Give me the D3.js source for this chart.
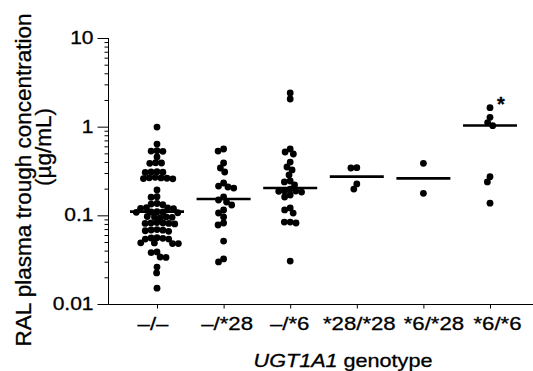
<!DOCTYPE html>
<html>
<head>
<meta charset="utf-8">
<script src="https://cdn.jsdelivr.net/npm/d3@7"></script>
<style>
  html, body { margin: 0; padding: 0; background: #fff; }
  svg { display: block; }
  text { font-family: "Liberation Sans", Arial, Helvetica, sans-serif; fill: #000; stroke: #000; stroke-width: 0.3px; }
</style>
</head>
<body>
<svg id="chart" width="533" height="371"></svg>
<script>
// ---- data ----
const categories = ["\u2013/\u2013", "\u2013/*28", "\u2013/*6", "*28/*28", "*6/*28", "*6/*6"];

const groupWtWt = [
  0.99, 0.637, 0.535, 0.531, 0.527, 0.455, 0.392, 0.389, 0.386,
  0.31, 0.308, 0.306, 0.304, 0.268, 0.265, 0.264, 0.262, 0.26, 0.258,
  0.193, 0.162, 0.16, 0.136, 0.134, 0.132, 0.122, 0.121, 0.12, 0.119,
  0.11, 0.109, 0.109, 0.108, 0.107, 0.097, 0.096, 0.0958, 0.095, 0.094,
  0.083, 0.082, 0.082, 0.081, 0.081, 0.08, 0.069, 0.0683, 0.068, 0.067, 0.066,
  0.056, 0.0555, 0.055, 0.054, 0.054, 0.049, 0.0488, 0.048, 0.048,
  0.0386, 0.038, 0.0339, 0.0335, 0.0261, 0.0224, 0.0151
];
const groupWt28 = [
  0.56, 0.531, 0.389, 0.342, 0.308, 0.2315, 0.214, 0.2087, 0.203, 0.161,
  0.149, 0.141, 0.1308, 0.1149, 0.1062, 0.0958, 0.082, 0.0778, 0.0513, 0.0322, 0.0298
];
const groupWt6 = [
  2.397, 2.051, 0.56, 0.518, 0.492, 0.399, 0.351, 0.325, 0.285, 0.244, 0.238,
  0.22, 0.198, 0.188, 0.188, 0.187, 0.183, 0.1695, 0.161, 0.121, 0.115, 0.106,
  0.084, 0.084, 0.082, 0.0305
];
const group2828 = [0.345, 0.342, 0.226, 0.198];
const group628 = [0.386, 0.177];
const group66 = [1.636, 1.275, 1.108, 1.025, 0.273, 0.238, 0.137];

const groupValues = [groupWtWt, groupWt28, groupWt6, group2828, group628, group66];
const medians = [0.11, 0.153, 0.203, 0.273, 0.261, 1.03];
const annotations = ["", "", "", "", "", "*"];

const yMajorTicks = [0.01, 0.1, 1, 10];
const yTickLabels = ["0.01", "0.1", "1", "10"];
const yTitleLine1 = "RAL plasma trough concentration";
const yTitleLine2 = "(\u00b5g/mL)";
const xTitleItalic = "UGT1A1";
const xTitleRest = " genotype";

// ---- layout ----
const svg = d3.select("#chart");
const axisX = 108.5, axisY = 304.5, plotRight = 533, plotTop = 38;
const stretch = 1.2;   // reference text is horizontally wide
const labelNudge = [-4.5, 3, -1, 2, 10, 7];  // horizontal nudges of category labels (layout)

const y = d3.scaleLog().domain([0.01, 10]).range([304, plotTop]);
const x = d3.scalePoint().domain(categories).range([157, 490]);

// ---- y axis ----
const minorTicks = y.ticks().filter(t => !yMajorTicks.some(m => Math.abs(m - t) / m < 1e-9));
const yMinor = svg.append("g").attr("transform", `translate(${axisX},0)`)
  .call(d3.axisLeft(y).tickValues(minorTicks).tickSize(4).tickSizeOuter(0).tickFormat(""));
yMinor.select(".domain").remove();
yMinor.selectAll("line").attr("stroke", "#000").attr("stroke-width", 1);

const yMajor = svg.append("g").attr("transform", `translate(${axisX},0)`)
  .call(d3.axisLeft(y).tickValues(yMajorTicks).tickSize(11).tickSizeOuter(0).tickPadding(1.5)
    .tickFormat((d, i) => yTickLabels[i]));
yMajor.select(".domain").remove();
yMajor.selectAll("line").attr("stroke", "#000").attr("stroke-width", 1);
yMajor.selectAll("text")
  .attr("font-size", 17.5)
  .attr("font-family", "'Liberation Sans', Arial, sans-serif")
  .attr("fill", "#000")
  .attr("transform", `scale(${stretch},1)`);

svg.append("line").attr("x1", axisX).attr("x2", axisX).attr("y1", plotTop).attr("y2", axisY)
  .attr("stroke", "#000").attr("stroke-width", 1);

// ---- x axis ----
const xAxisG = svg.append("g").attr("transform", `translate(0,${axisY})`)
  .call(d3.axisBottom(x).tickSize(4).tickSizeOuter(0));
xAxisG.select(".domain").remove();
xAxisG.selectAll("line").attr("stroke", "#000").attr("stroke-width", 1);
xAxisG.selectAll("text")
  .attr("y", 26).attr("dy", 0)
  .attr("font-size", 18.5)
  .attr("font-family", "'Liberation Sans', Arial, sans-serif")
  .attr("fill", "#000")
  .attr("transform", (d, i) => `translate(${labelNudge[i]},0) scale(${stretch},1)`);
svg.append("line").attr("x1", axisX).attr("x2", plotRight).attr("y1", axisY).attr("y2", axisY)
  .attr("stroke", "#000").attr("stroke-width", 1);

// ---- titles ----
svg.append("text")
  .attr("transform", "translate(31,180) rotate(-90)")
  .attr("text-anchor", "middle").attr("font-size", 22.5)
  .text(yTitleLine1);
svg.append("text")
  .attr("transform", "translate(51,147) rotate(-90)")
  .attr("text-anchor", "middle").attr("font-size", 22.5)
  .text(yTitleLine2);

const xt = svg.append("text")
  .attr("transform", `translate(343,366.5) scale(${stretch},1)`)
  .attr("text-anchor", "middle").attr("font-size", 18);
xt.append("tspan").attr("font-style", "italic").text(xTitleItalic);
xt.append("tspan").text(xTitleRest);

// ---- beeswarm ----
const r = 3.4, sep = 5.9;
function swarm(vals) {
  const pts = vals.map(v => ({ v, py: y(v) })).sort((a, b) => a.py - b.py);
  const placed = [];
  for (const p of pts) {
    const cands = [0];
    for (const q of placed) {
      const dy = Math.abs(q.py - p.py);
      if (dy < sep) {
        const dx = Math.sqrt(sep * sep - dy * dy);
        cands.push(q.dx + dx, q.dx - dx);
      }
    }
    cands.sort((a, b) => Math.abs(a) - Math.abs(b) || a - b);
    for (const c of cands) {
      if (placed.every(q => (q.dx - c) ** 2 + (q.py - p.py) ** 2 >= sep * sep - 1e-6)) {
        p.dx = c; break;
      }
    }
    placed.push(p);
  }
  return placed;
}

categories.forEach((cat, i) => {
  const cx = x(cat);
  const pts = swarm(groupValues[i]);
  svg.append("g").selectAll("circle").data(pts).join("circle")
    .attr("cx", d => cx + d.dx).attr("cy", d => y(d.v)).attr("r", r)
    .attr("fill", "#000");
  svg.append("line")
    .attr("x1", cx - 27).attr("x2", cx + 27)
    .attr("y1", y(medians[i])).attr("y2", y(medians[i]))
    .attr("stroke", "#000").attr("stroke-width", 2.6);
  if (annotations[i]) {
    const top = d3.max(groupValues[i]);
    svg.append("text")
      .attr("x", cx + 11).attr("y", y(top) + 3.5)
      .attr("text-anchor", "middle").attr("font-size", 20).attr("font-weight", "bold")
      .text(annotations[i]);
  }
});
</script>
</body>
</html>
